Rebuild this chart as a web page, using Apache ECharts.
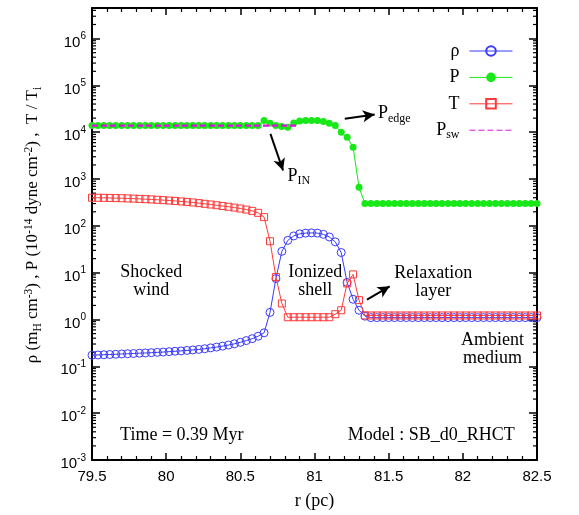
<!DOCTYPE html>
<html>
<head>
<meta charset="utf-8">
<script src="https://cdn.jsdelivr.net/npm/echarts@6/dist/echarts.min.js"></script>
<style>
  html, body { margin: 0; padding: 0; background: #ffffff; }
  #chart { width: 579px; height: 515px; }
</style>
</head>
<body>
<div id="chart"></div>
<script>
// Radial grid of the profile (pc)
const radius = [
  79.50, 79.54, 79.58, 79.62, 79.66, 79.70, 79.74, 79.78, 79.82, 79.86,
  79.90, 79.94, 79.98, 80.02, 80.06, 80.10, 80.14, 80.18, 80.22, 80.26,
  80.30, 80.34, 80.38, 80.42, 80.46, 80.50, 80.54, 80.58, 80.62, 80.66,
  80.70, 80.74, 80.78, 80.82, 80.86, 80.90, 80.94, 80.98, 81.02, 81.06,
  81.10, 81.14, 81.18, 81.22, 81.26, 81.30, 81.34, 81.38, 81.42, 81.46,
  81.50, 81.54, 81.58, 81.62, 81.66, 81.70, 81.74, 81.78, 81.82, 81.86,
  81.90, 81.94, 81.98, 82.02, 82.06, 82.10, 82.14, 82.18, 82.22, 82.26,
  82.30, 82.34, 82.38, 82.42, 82.46, 82.50
];

// Density rho (m_H cm^-3)
const density = [
  0.173, 0.175, 0.177, 0.179, 0.181, 0.184, 0.186, 0.188, 0.191, 0.193,
  0.196, 0.199, 0.202, 0.206, 0.210, 0.214, 0.219, 0.224, 0.230, 0.238,
  0.248, 0.258, 0.270, 0.285, 0.303, 0.326, 0.355, 0.390, 0.440, 0.520,
  1.42, 7.5, 28.6, 49, 61, 67.5, 70, 71, 70, 66,
  58, 45.6, 27, 6.2, 2.71, 1.58, 1.18, 1.10, 1.10, 1.10,
  1.10, 1.10, 1.10, 1.10, 1.10, 1.10, 1.10, 1.10, 1.10, 1.10,
  1.10, 1.10, 1.10, 1.10, 1.10, 1.10, 1.10, 1.10, 1.10, 1.10,
  1.10, 1.10, 1.10, 1.10, 1.10, 1.10
];

// Pressure P (1e-14 dyne cm^-2)
const pressure = [
  14000, 14000, 14000, 14000, 14000, 14000, 14000, 14000, 14000, 14000,
  14000, 14000, 14000, 14000, 14000, 14000, 14000, 14000, 14000, 14000,
  14000, 14000, 14000, 14000, 14000, 14000, 14000, 14000, 14000, 17800,
  15600, 13900, 13200, 12800, 15700, 17300, 17800, 17800, 17800, 16900,
  15600, 13900, 10000, 7800, 4800, 670, 300, 300, 300, 300,
  300, 300, 300, 300, 300, 300, 300, 300, 300, 300,
  300, 300, 300, 300, 300, 300, 300, 300, 300, 300,
  300, 300, 300, 300, 300, 300
];

// Temperature T / T_i
const temperature = [
  400, 399, 397, 395, 392, 390, 386, 382, 377, 372,
  367, 361, 355, 348, 341, 333, 325, 316, 306, 296,
  286, 276, 266, 256, 246, 235, 223, 209, 190, 154,
  47, 8.1, 2.2, 1.12, 1.12, 1.12, 1.12, 1.12, 1.12, 1.12,
  1.12, 1.30, 1.58, 5.9, 9.2, 2.6, 1.23, 1.22, 1.22, 1.22,
  1.22, 1.22, 1.22, 1.22, 1.22, 1.22, 1.22, 1.22, 1.22, 1.22,
  1.22, 1.22, 1.22, 1.22, 1.22, 1.22, 1.22, 1.22, 1.22, 1.22,
  1.22, 1.22, 1.22, 1.22, 1.22, 1.22
];

// Shocked-wind pressure level and the radii it spans
const pressureSWRadius = [79.5, 80.88];
const pressureSW = [13800, 13800];

// Axis ranges and decade exponents of the y axis
const xRange = [79.5, 82.5];
const yRange = [1e-3, 4.5e6];
const yDecades = [-3, -2, -1, 0, 1, 2, 3, 4, 5, 6];
const minorMantissas = [2, 3, 4, 5, 6, 7, 8, 9];

const SERIF = '"Liberation Serif", "Times New Roman", serif';
const SANS = '"Liberation Sans", Arial, Helvetica, sans-serif';
const C_RHO = '#3a3aff';
const C_P = '#18e818';
const C_T = '#ff3a3a';
const C_SW = '#e010e0';

const pairs = (xs, ys) => xs.map((x, i) => [x, ys[i]]);

// Log-scale minor tick values (2..9 x 10^k) inside the y range
const minorY = [];
yDecades.forEach(k => minorMantissas.forEach(m => {
  const v = m * Math.pow(10, k);
  if (v > yRange[0] && v < yRange[1]) minorY.push(v);
}));

const chart = echarts.init(document.getElementById('chart'), null, { renderer: 'canvas' });

const axisLine = { show: true, onZero: false, lineStyle: { color: '#000', width: 2 } };

function decadeLabel(v) {
  const e = Math.log10(v);
  const k = Math.round(e);
  if (Math.abs(e - k) > 1e-6) return '';
  return '{b|10}{s|' + k + '}';
}

const yAxisBase = {
  type: 'log',
  logBase: 10,
  min: yRange[0],
  max: yRange[1],
  splitNumber: 10,
  axisLine: axisLine,
  axisTick: { show: true, inside: true, length: 8, lineStyle: { color: '#000', width: 1.5 } },
  minorTick: { show: false },
  splitLine: { show: false }
};

const xAxisBase = {
  type: 'value',
  min: xRange[0],
  max: xRange[1],
  interval: 0.5,
  axisLine: axisLine,
  axisTick: { show: true, inside: true, length: 7, lineStyle: { color: '#000', width: 1.5 } },
  minorTick: { show: true, splitNumber: 5, length: 4, lineStyle: { color: '#000', width: 1.2 } },
  splitLine: { show: false }
};

const arrowStyle = { color: '#000', width: 2, type: 'solid' };

const option = {
  animation: false,
  backgroundColor: '#ffffff',
  grid: { left: 92, right: 42, top: 8, bottom: 55, containLabel: false, outerBoundsMode: 'none' },
  legend: {
    data: [
      { name: 'ρ' },
      { name: 'P' },
      { name: 'T' },
      { name: 'P_sw', itemStyle: { opacity: 0 } }
    ],
    orient: 'vertical',
    right: 66,
    top: 40,
    padding: 0,
    itemWidth: 43,
    itemHeight: 12,
    itemGap: 4.4,
    align: 'right',
    selectedMode: false,
    lineStyle: { width: 1 },
    formatter: name => name === 'P_sw' ? '{n|P}{sub|sw}' : name,
    textStyle: {
      fontFamily: SERIF, fontSize: 18, color: '#000', lineHeight: 22,
      padding: [0, 5, 0, 0],
      rich: {
        n: { fontFamily: SERIF, fontSize: 18, lineHeight: 22, color: '#000' },
        sub: { fontFamily: SERIF, fontSize: 12, lineHeight: 12, verticalAlign: 'bottom', color: '#000' }
      }
    }
  },
  xAxis: [
    Object.assign({}, xAxisBase, {
      position: 'bottom',
      axisLabel: { fontFamily: SANS, fontSize: 15, color: '#000', margin: 9 },
      name: 'r (pc)',
      nameLocation: 'middle',
      nameGap: 32,
      nameTextStyle: { fontFamily: SERIF, fontSize: 18, color: '#000' }
    }),
    Object.assign({}, xAxisBase, { position: 'top', axisLabel: { show: false } })
  ],
  yAxis: [
    Object.assign({}, yAxisBase, {
      position: 'left',
      axisLabel: {
        formatter: decadeLabel,
        margin: 6,
        padding: [8, 0, 0, 0],
        rich: {
          b: { fontFamily: SANS, fontSize: 15, lineHeight: 22, color: '#000' },
          s: { fontFamily: SANS, fontSize: 10, lineHeight: 10, verticalAlign: 'top', color: '#000' }
        }
      }
    }),
    Object.assign({}, yAxisBase, { position: 'right', axisLabel: { show: false } })
  ],
  series: [
    {
      name: 'ρ', type: 'line', xAxisIndex: 0, yAxisIndex: 0,
      data: pairs(radius, density),
      symbol: 'circle', symbolSize: 8, showSymbol: true,
      itemStyle: { color: 'none', borderColor: C_RHO, borderWidth: 1 },
      lineStyle: { color: C_RHO, width: 1 },
      emphasis: { disabled: true }, z: 4
    },
    {
      name: 'P', type: 'line', xAxisIndex: 0, yAxisIndex: 0,
      data: pairs(radius, pressure),
      symbol: 'circle', symbolSize: 7, showSymbol: true,
      itemStyle: { color: C_P, borderWidth: 0 },
      lineStyle: { color: C_P, width: 1 },
      emphasis: { disabled: true }, z: 3,
      markLine: {
        silent: true,
        symbol: ['none', 'arrow'],
        symbolSize: [9, 12],
        label: { show: false },
        lineStyle: arrowStyle,
        emphasis: { disabled: true },
        data: [
          [{ coord: [80.703, 9250] }, { coord: [80.788, 1525] }],
          [{ coord: [81.204, 19300] }, { coord: [81.406, 23800] }],
          [{ coord: [81.354, 2.67] }, { coord: [81.507, 5.13] }]
        ]
      }
    },
    {
      name: 'T', type: 'line', xAxisIndex: 0, yAxisIndex: 0,
      data: pairs(radius, temperature),
      symbol: 'rect', symbolSize: 7, showSymbol: true,
      itemStyle: { color: 'none', borderColor: C_T, borderWidth: 1 },
      lineStyle: { color: C_T, width: 1 },
      emphasis: { disabled: true }, z: 5
    },
    {
      name: 'P_sw', type: 'line', xAxisIndex: 0, yAxisIndex: 0,
      data: pairs(pressureSWRadius, pressureSW),
      symbol: 'none',
      itemStyle: { color: C_SW },
      lineStyle: { color: C_SW, width: 2.2, type: [6, 3] },
      emphasis: { disabled: true }, z: 10, zlevel: 0
    },
    {
      // minor ticks of the logarithmic axis, mirrored on both sides
      name: 'yMinorTicks', type: 'custom', xAxisIndex: 0, yAxisIndex: 0,
      silent: true, clip: false, z: 1,
      data: minorY.map(v => [xRange[0], v]),
      renderItem: (params, api) => {
        const v = api.value(1);
        const pl = api.coord([xRange[0], v]);
        const pr = api.coord([xRange[1], v]);
        const st = { stroke: '#000', lineWidth: 1.2 };
        return {
          type: 'group',
          children: [
            { type: 'line', shape: { x1: pl[0], y1: pl[1], x2: pl[0] + 4, y2: pl[1] }, style: st },
            { type: 'line', shape: { x1: pr[0], y1: pr[1], x2: pr[0] - 4, y2: pr[1] }, style: st }
          ]
        };
      }
    }
  ]
};

chart.setOption(option);

// Annotation texts anchored in data coordinates
const toPx = (r, v) => chart.convertToPixel({ xAxisIndex: 0, yAxisIndex: 0 }, [r, v]);
const richLabel = {
  n: { fontFamily: SERIF, fontSize: 18, lineHeight: 22, fill: '#000' },
  sub: { fontFamily: SERIF, fontSize: 12, lineHeight: 12, verticalAlign: 'bottom', fill: '#000' },
  sup: { fontFamily: SERIF, fontSize: 12, lineHeight: 12, verticalAlign: 'top', fill: '#000' }
};
const titleRich = {
  n: { fontFamily: SERIF, fontSize: 17, lineHeight: 21, fill: '#000' },
  sub: { fontFamily: SERIF, fontSize: 11.5, lineHeight: 11, verticalAlign: 'bottom', fill: '#000' },
  sup: { fontFamily: SERIF, fontSize: 11.5, lineHeight: 11, verticalAlign: 'top', fill: '#000' }
};
const notes = [
  { at: [79.90, 6.72], text: 'Shocked\nwind', align: 'center' },
  { at: [81.005, 6.72], text: 'Ionized\nshell', align: 'center' },
  { at: [81.80, 6.24], text: 'Relaxation\nlayer', align: 'center' },
  { at: [82.20, 0.227], text: 'Ambient\nmedium', align: 'center' },
  { at: [79.689, 0.00341], text: 'Time = 0.39 Myr', align: 'left' },
  { at: [82.35, 0.00341], text: 'Model : SB_d0_RHCT', align: 'right' }
];
const richNotes = [
  { at: [80.818, 1165], text: '{n|P}{sub|IN}' },
  { at: [81.428, 25000], text: '{n|P}{sub|edge}' }
];

const graphics = [];
notes.forEach(n => {
  const p = toPx(n.at[0], n.at[1]);
  graphics.push({
    type: 'text', x: p[0], y: p[1], silent: true, z: 20,
    style: {
      text: n.text, fontFamily: SERIF, fontSize: 18, lineHeight: 18,
      fill: '#000', align: n.align, verticalAlign: 'middle'
    }
  });
});
richNotes.forEach(n => {
  const p = toPx(n.at[0], n.at[1]);
  graphics.push({
    type: 'text', x: p[0], y: p[1], silent: true, z: 20,
    style: { text: n.text, rich: richLabel, fill: '#000', align: 'left', verticalAlign: 'middle' }
  });
});

// Rotated y-axis title
graphics.push({
  type: 'text', x: 33, y: 225, rotation: Math.PI / 2, silent: true, z: 20,
  style: {
    text: '{n|ρ (m}{sub|H}{n| cm}{sup|-3}{n|) , P (10}{sup|-14}{n| dyne cm}{sup|-2}{n|) ,  T / T}{sub|i}',
    rich: titleRich, fill: '#000', align: 'center', verticalAlign: 'middle'
  }
});

chart.setOption({ graphic: graphics });
</script>
</body>
</html>
